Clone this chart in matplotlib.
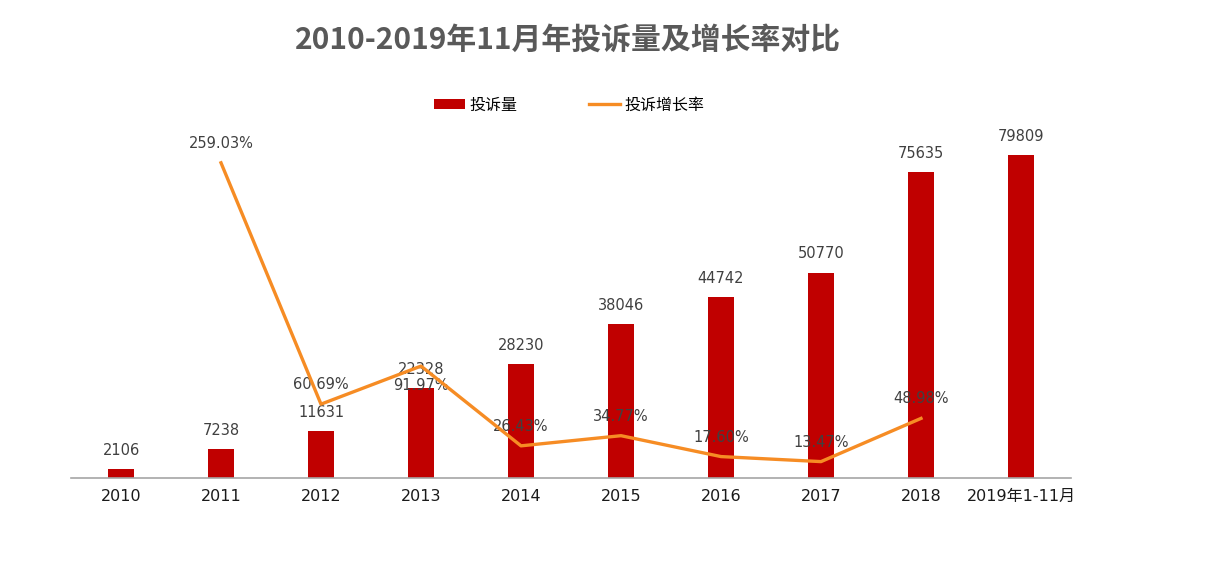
import matplotlib.pyplot as plt
import numpy as np

plt.rcParams['font.family'] = ['DejaVu Sans', 'Noto Sans CJK SC']

years = ['2010', '2011', '2012', '2013', '2014', '2015', '2016', '2017', '2018', '2019年1-11月']
counts = [2106, 7238, 11631, 22328, 28230, 38046, 44742, 50770, 75635, 79809]
growth = [None, 259.03, 60.69, 91.97, 26.43, 34.77, 17.60, 13.47, 48.98, None]

bar_color = '#C00000'
line_color = '#F68C24'
cjk = ['Noto Sans CJK SC', 'DejaVu Sans']

fig = plt.figure(figsize=(12.22, 5.7), dpi=100)
ax = fig.add_axes([71 / 1222, 92 / 570, 1000 / 1222, 348 / 570])
x = np.arange(len(years))

bars = ax.bar(x, counts, width=0.26, color=bar_color, label='投诉量', zorder=2)
ax.set_xlim(-0.5, len(years) - 0.5)
ax.set_ylim(0, 86000)
ax.set_xticks(x)
ax.set_xticklabels(years, fontsize=11.5, color='#1a1a1a')
ax.tick_params(axis='x', length=0, pad=8)
ax.set_yticks([])
for s in ['left', 'right', 'top']:
    ax.spines[s].set_visible(False)
ax.spines['bottom'].set_color('#A6A6A6')
ax.spines['bottom'].set_linewidth(1.2)

for xi, v in zip(x, counts):
    ax.annotate(str(v), (xi, v), xytext=(0, 8), textcoords='offset points',
                ha='center', va='bottom', fontsize=10.5, color='#404040')

ax2 = ax.twinx()
ax2.set_ylim(0, 286)
ax2.set_yticks([])
for s in ['left', 'right', 'top', 'bottom']:
    ax2.spines[s].set_visible(False)

gx = [xi for xi, g in zip(x, growth) if g is not None]
gy = [g for g in growth if g is not None]
line, = ax2.plot(gx, gy, color=line_color, lw=2.4, label='投诉增长率', zorder=4)
for xi, g in zip(gx, gy):
    # the 2013 label sits below its point in the original
    off = -14 if abs(g - 91.97) < 0.01 else 14
    ax2.annotate(f'{g:.2f}%', (xi, g), xytext=(0, off), textcoords='offset points',
                 ha='center', va='center', fontsize=10.5, color='#404040', zorder=3)

fig.text(0.465, 0.93, '2010-2019年11月年投诉量及增长率对比', ha='center', va='center',
         fontsize=21.5, fontweight='bold', color='#595959', family=cjk)

fig.legend([bars, line], ['投诉量', '投诉增长率'], loc='center', bbox_to_anchor=(0.466, 0.816),
           ncol=2, frameon=False, prop={'family': cjk, 'size': 11.5},
           handlelength=1.9, handleheight=0.6, columnspacing=4.5, handletextpad=0.3)

fig.savefig('out.png', dpi=100)
